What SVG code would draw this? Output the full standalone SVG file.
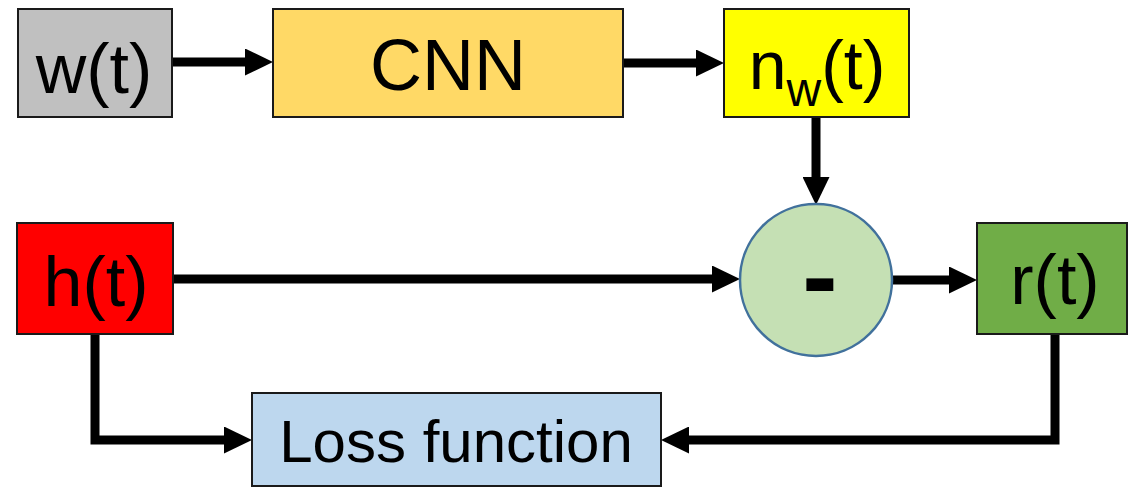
<svg xmlns="http://www.w3.org/2000/svg" width="1129" height="488" viewBox="0 0 1129 488">
<style>
.box{stroke:#1a1a1a;stroke-width:2}
.t{font-family:"Liberation Sans",Arial,sans-serif;fill:#000;text-anchor:middle}
.c{fill:none;stroke:#000;stroke-width:9;stroke-linejoin:miter}
</style>
<defs>
<marker id="ah" viewBox="0 0 28 27" markerWidth="28" markerHeight="27" markerUnits="userSpaceOnUse" refX="8" refY="13.5" orient="auto">
<path d="M0,0 L28,13.5 L0,27 Z" fill="#000"/>
</marker>
</defs>
<rect width="1129" height="488" fill="#fff"/>
<g id="connectors">
<path class="c" d="M172,62 L253,62" marker-end="url(#ah)"/>
<path class="c" d="M623,63 L704,63" marker-end="url(#ah)"/>
<path class="c" d="M816,117 L816,185" marker-end="url(#ah)"/>
<path class="c" d="M173,279 L720,279" marker-end="url(#ah)"/>
<path class="c" d="M893,280 L957,280" marker-end="url(#ah)"/>
<path class="c" d="M95,334 L95,440 L232,440" marker-end="url(#ah)"/>
<path class="c" d="M1055,334 L1055,440 L681,440" marker-end="url(#ah)"/>
</g>
<g id="w">
<rect class="box" x="18" y="9" width="154" height="108" fill="#c0c0c0"/>
<text class="t" x="94" y="93" font-size="70">w(t)</text>
</g>
<g id="cnn">
<rect class="box" x="273" y="9" width="350" height="108" fill="#ffd966"/>
<text class="t" x="448" y="90" font-size="72">CNN</text>
</g>
<g id="nw">
<rect class="box" x="724" y="9" width="185" height="108" fill="#ffff00"/>
<text class="t" x="817" y="89" font-size="68">n<tspan font-size="48" dy="17">w</tspan><tspan dy="-17">(t)</tspan></text>
</g>
<g id="h">
<rect class="box" x="17" y="223" width="156" height="111" fill="#ff0000"/>
<text class="t" x="96" y="306" font-size="70">h(t)</text>
</g>
<g id="minus">
<circle cx="816" cy="280" r="76" fill="#c5e0b4" stroke="#41719c" stroke-width="2.5"/>
<text class="t" x="820" y="312" font-size="106" font-weight="bold">-</text>
</g>
<g id="r">
<rect class="box" x="977" y="223" width="150" height="111" fill="#70ad47"/>
<text class="t" x="1055" y="304" font-size="70">r(t)</text>
</g>
<g id="loss">
<rect class="box" x="252" y="393" width="409" height="93" fill="#bdd7ee"/>
<text class="t" x="456" y="462" font-size="60">Loss function</text>
</g>
</svg>
